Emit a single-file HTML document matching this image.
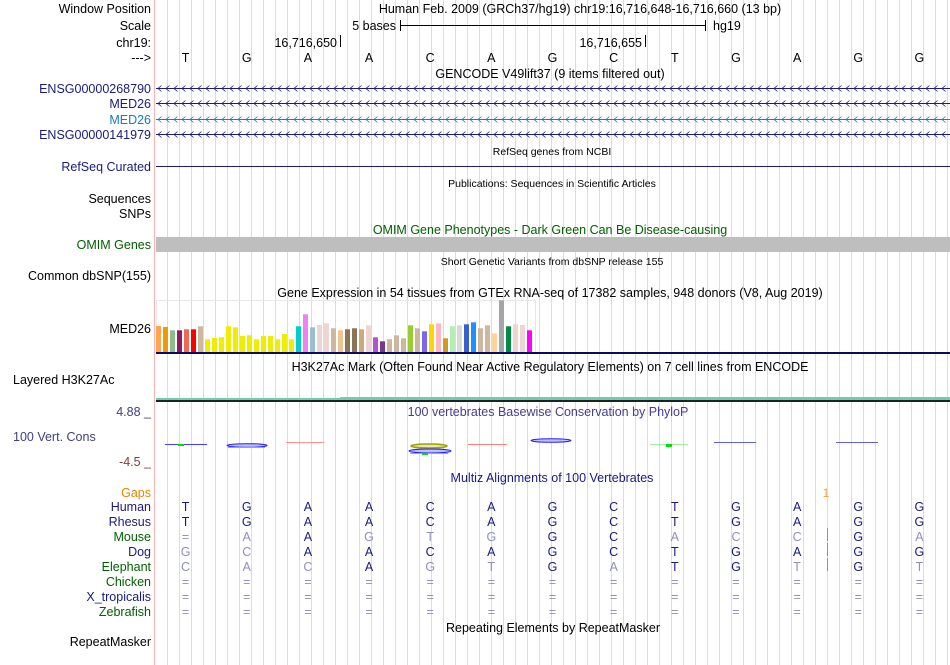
<!DOCTYPE html>
<html><head><meta charset="utf-8"><style>
html,body{margin:0;padding:0;background:#fff;}
svg{display:block;font-family:"Liberation Sans",sans-serif;}
</style></head><body>
<svg id="s" width="950" height="665" viewBox="0 0 950 665" xmlns="http://www.w3.org/2000/svg">
<g id="grid"></g>
<line x1="154.5" y1="0" x2="154.5" y2="665" stroke="#ffb0b0" stroke-width="1"/>
<g font-size="12.5" text-anchor="end">
<text x="151" y="13" fill="#000">Window Position</text>
<text x="151" y="30" fill="#000">Scale</text>
<text x="151" y="47" fill="#000">chr19:</text>
<text x="151" y="62" fill="#000">---&gt;</text>
<text x="151" y="93" fill="#1a1a80">ENSG00000268790</text>
<text x="151" y="108" fill="#1a1a80">MED26</text>
<text x="151" y="124" fill="#1a7ac0">MED26</text>
<text x="151" y="139" fill="#1a1a80">ENSG00000141979</text>
<text x="151" y="171" fill="#1a1a80">RefSeq Curated</text>
<text x="151" y="203" fill="#000">Sequences</text>
<text x="151" y="218" fill="#000">SNPs</text>
<text x="151" y="249" fill="#006000">OMIM Genes</text>
<text x="151" y="280" fill="#000">Common dbSNP(155)</text>
<text x="151" y="333" fill="#000">MED26</text>
<text x="13" y="384" text-anchor="start" fill="#000">Layered H3K27Ac</text>
<text x="151" y="416" fill="#404080">4.88 _</text>
<text x="13" y="441" text-anchor="start" fill="#404080">100 Vert. Cons</text>
<text x="151" y="466" fill="#804040">-4.5 _</text>
<text x="151" y="497" fill="#e08800">Gaps</text>
<text x="151" y="646" fill="#000">RepeatMasker</text>
</g>
<g font-size="12.5" text-anchor="middle">
<text x="580" y="13" fill="#000">Human Feb. 2009 (GRCh37/hg19)   chr19:16,716,648-16,716,660 (13 bp)</text>
<text x="550" y="78" fill="#000">GENCODE V49lift37 (9 items filtered out)</text>
<text x="550" y="297" fill="#000">Gene Expression in 54 tissues from GTEx RNA-seq of 17382 samples, 948 donors (V8, Aug 2019)</text>
<text x="550" y="371" fill="#000">H3K27Ac Mark (Often Found Near Active Regulatory Elements) on 7 cell lines from ENCODE</text>
<text x="548" y="416" fill="#404090">100 vertebrates Basewise Conservation by PhyloP</text>
<text x="552" y="482" fill="#1a1a80">Multiz Alignments of 100 Vertebrates</text>
<text x="553" y="632" fill="#000">Repeating Elements by RepeatMasker</text>
<text x="550" y="234" fill="#006000">OMIM Gene Phenotypes - Dark Green Can Be Disease-causing</text>
</g>
<g font-size="10.5" text-anchor="middle" fill="#000">
<text x="552" y="155">RefSeq genes from NCBI</text>
<text x="552" y="187">Publications: Sequences in Scientific Articles</text>
<text x="552" y="265">Short Genetic Variants from dbSNP release 155</text>
</g>
<g font-size="12.5">
<text x="396" y="30" text-anchor="end">5 bases</text>
<line x1="400.5" y1="20" x2="400.5" y2="31" stroke="#000"/>
<line x1="400.5" y1="25.5" x2="705.5" y2="25.5" stroke="#000"/>
<line x1="705.5" y1="20" x2="705.5" y2="31" stroke="#000"/>
<text x="713" y="30">hg19</text>
<text x="337" y="47" text-anchor="end">16,716,650</text>
<line x1="340.5" y1="35" x2="340.5" y2="47" stroke="#000"/>
<text x="642" y="47" text-anchor="end">16,716,655</text>
<line x1="645.5" y1="35" x2="645.5" y2="47" stroke="#000"/>
</g>
<g id="bases" font-size="12.5" text-anchor="middle"></g>
<g id="genes"></g>
<line x1="156" y1="166.5" x2="950" y2="166.5" stroke="#1a1a80"/>
<rect x="156" y="237" width="794" height="15" fill="#bebebe"/>
<rect x="156.5" y="300.5" width="379" height="52" fill="none" stroke="#e8e8e8"/>
<g id="bars"></g>
<line x1="156" y1="353" x2="950" y2="353" stroke="#0a0a60" stroke-width="2"/>
<g>
<rect x="156" y="398" width="184" height="2" fill="#6ad0b0"/>
<rect x="340" y="397" width="610" height="3" fill="#6ad0b0"/>
<rect x="156" y="400" width="794" height="2" fill="#202020"/>
</g>
<g>
<line x1="165" y1="444.5" x2="207" y2="444.5" stroke="#4040ff"/>
<rect x="178" y="444" width="6" height="2" fill="#00e000"/>
<ellipse cx="247" cy="445.5" rx="20" ry="1.8" fill="#c0c0ff" stroke="#2020ff"/>
<line x1="228" y1="447.5" x2="265" y2="447.5" stroke="#ff8080"/>
<line x1="286" y1="442.5" x2="324" y2="442.5" stroke="#ff9090"/>
<ellipse cx="429" cy="446" rx="18" ry="2" fill="#e8e8b0" stroke="#a0a000" stroke-width="1.5"/>
<ellipse cx="430" cy="451" rx="21" ry="2" fill="#c0c0ff" stroke="#2020ff"/>
<line x1="410" y1="453.5" x2="448" y2="453.5" stroke="#ff8080"/>
<rect x="422" y="453" width="6" height="2" fill="#00e000"/>
<line x1="468" y1="444.5" x2="507" y2="444.5" stroke="#ff8080"/>
<ellipse cx="551" cy="440.5" rx="20" ry="1.8" fill="#c0c0ff" stroke="#2020ff"/>
<line x1="650" y1="444.5" x2="688" y2="444.5" stroke="#a0f0a0"/>
<rect x="666" y="444" width="6" height="3" fill="#00e000"/>
<line x1="714" y1="442.5" x2="756" y2="442.5" stroke="#6060e0"/>
<line x1="836" y1="442.5" x2="878" y2="442.5" stroke="#6060e0"/>
</g>
<text x="826" y="497" font-size="12" fill="#f0a040" text-anchor="middle">1</text>
<g>
<line x1="827.5" y1="528" x2="827.5" y2="541" stroke="#e08800"/>
<line x1="827.5" y1="543" x2="827.5" y2="556" stroke="#e08800"/>
<line x1="827.5" y1="558" x2="827.5" y2="571" stroke="#e08800"/>
</g>
<g id="align" font-size="12.5" text-anchor="middle"></g>
<g id="species" font-size="12.5" text-anchor="end"></g>
</svg>
<script>
const gtexTissues = ["adipose-sub","adipose-visc","adrenal","artery-aorta","artery-coronary","artery-tibial","bladder","brain-amygdala","brain-acc","brain-caudate","brain-cereb-hemi","brain-cerebellum","brain-cortex","brain-frontal","brain-hippo","brain-hypo","brain-nacc","brain-putamen","brain-spinal","brain-substantia","breast","cells-ebv","cells-fibro","cervix-ecto","cervix-endo","colon-sigmoid","colon-transverse","esoph-gej","esoph-mucosa","esoph-muscularis","fallopian","heart-aa","heart-lv","kidney-cortex","kidney-medulla","liver","lung","salivary","muscle","nerve-tibial","ovary","pancreas","pituitary","prostate","skin-nosun","skin-sun","small-intestine","spleen","stomach","testis","thyroid","uterus","vagina","whole-blood"];
const gtexValues = [26,25,21.7,21.7,22.7,22.7,25.7,12.7,14,14.7,25.7,24.7,16,16.7,12.7,16,16,12.7,18,12.7,25.7,37.7,24.7,27,28.7,23.7,21.7,22.7,23.7,22.7,26.7,14.7,10.7,12.7,16.7,13.7,26.7,23.7,20.7,27.7,28.7,13.7,25.7,26.7,27.7,29.7,23.7,26.7,18.7,51.7,25.7,27.7,27,21.7];
const gtexColors = ["#ffa54f","#ee9a00","#8fbc8f","#8b1c62","#ee6a50","#ff0000","#cdb79e","#eeee00","#eeee00","#eeee00","#eeee00","#eeee00","#eeee00","#eeee00","#eeee00","#eeee00","#eeee00","#eeee00","#eeee00","#eeee00","#00cdcd","#ee82ee","#9ac0cd","#eed5d2","#eed5d2","#cdb79e","#eec591","#8b7355","#8b7355","#cdaa7d","#eed5d2","#b452cd","#7a378b","#cdb79e","#cdb79e","#cdb79e","#9acd32","#cdb79e","#7a67ee","#ffd700","#ffb6c1","#cd9b1d","#b4eeb4","#d9d9d9","#3a5fcd","#1e90ff","#cdb79e","#cdb79e","#ffd39b","#a6a6a6","#008b45","#eed5d2","#eed5d2","#ff00ff"];
const bases = ["T","G","A","A","C","A","G","C","T","G","A","G","G"];
const speciesNames = ["Human","Rhesus","Mouse","Dog","Elephant","Chicken","X_tropicalis","Zebrafish"];
const speciesColors = ["#1a1a80","#1a1a80","#006000","#1a1a80","#006000","#006000","#1a1a80","#006000"];
const alignRows = ["TGAACAGCTGAGG","TGAACAGCTGAGG","=AAGTGGCACCGA","GCAACAGCTGAGG","CACAGTGATGTGT","=============","=============","============="];

const NS = "http://www.w3.org/2000/svg";
function mk(tag, attrs, parent){const e=document.createElementNS(NS,tag);for(const k in attrs)e.setAttribute(k,attrs[k]);parent.appendChild(e);return e;}
const x0=155, x1=950, nB=bases.length, bw=(x1-x0)/nB;
function baseX(i){return x0+bw*(i+0.5);}
const grid=document.getElementById('grid');
for(let x=167.5;x<950;x+=12){const l=mk('line',{x1:x,y1:0,x2:x,y2:665,stroke:'#d8d8f8','stroke-width':1},grid);

}
const bg=document.getElementById('bases');
bases.forEach((b,i)=>{const t=mk('text',{x:baseX(i),y:62},bg);t.textContent=b;

});
const gg=document.getElementById('genes');
const geneY=[88,103,119,134], geneC=['#1a1a80','#1a1a80','#1a7ac0','#1a1a80'];
geneY.forEach((y,j)=>{const g=mk('g',{},gg);


mk('line',{x1:156,y1:y+0.5,x2:950,y2:y+0.5,stroke:geneC[j],'stroke-width':0.9},g);
let d='';for(let x=158;x<948;x+=8){d+='M'+(x+3.5)+' '+(y-2.5)+'L'+x+' '+(y+0.5)+'L'+(x+3.5)+' '+(y+3.5);}
mk('path',{d:d,fill:'none',stroke:geneC[j],'stroke-width':0.8},g);});
const barsG=document.getElementById('bars');
const baseY=352, scaleY=1, bx0=156, step=7.0, bwid=5;
function yScale(v){return baseY-v*scaleY;}
gtexValues.forEach((v,i)=>{const r=mk('rect',{x:bx0+i*step,y:yScale(v),width:bwid,height:baseY-yScale(v),fill:gtexColors[i]},barsG);

});
const ag=document.getElementById('align'), sg=document.getElementById('species');
speciesNames.forEach((n,r)=>{const y=511+r*15;
const t=mk('text',{x:151,y:y,fill:speciesColors[r]},sg);t.textContent=n;


for(let i=0;i<nB;i++){const c=alignRows[r][i];const match=c===bases[i];
const e=mk('text',{x:baseX(i),y:y,fill:match?'#1a1a80':'#9090b8'},ag);e.textContent=c;

}});
</script>
</body></html>
